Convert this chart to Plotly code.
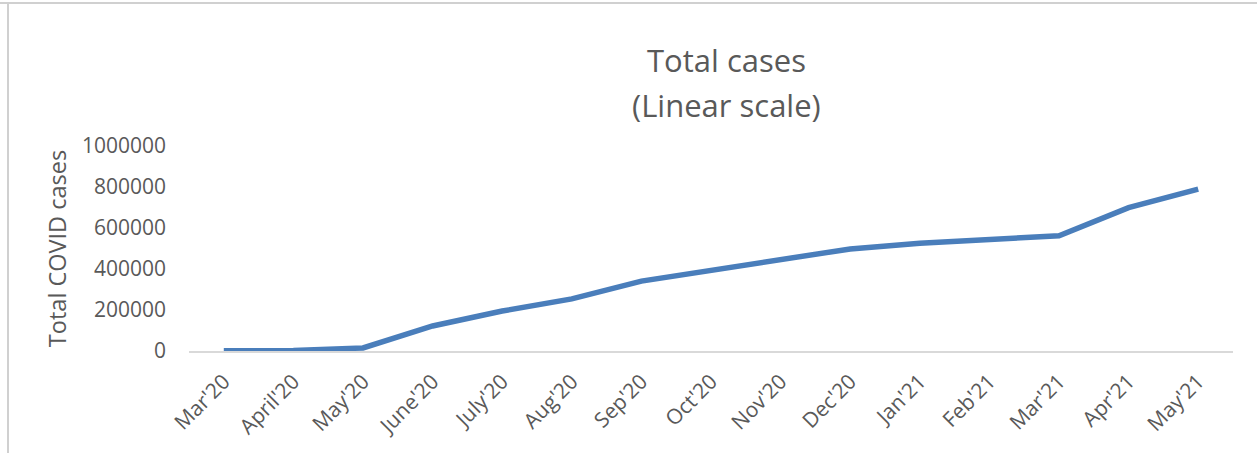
import plotly.graph_objects as go

months = ["Mar'20", "April'20", "May'20", "June'20", "July'20", "Aug'20", "Sep'20",
          "Oct'20", "Nov'20", "Dec'20", "Jan'21", "Feb'21", "Mar'21", "Apr'21", "May'21"]
total_cases = [1500, 2000, 15000, 122000, 195000, 254000, 341000,
               395000, 449000, 498000, 526000, 541000, 562000, 699000, 790000]
y_ticks = [0, 200000, 400000, 600000, 800000, 1000000]

FONT = "Open Sans"
GREY = "#595959"

fig = go.Figure()
fig.add_trace(go.Scatter(
    x=months, y=total_cases, mode="lines",
    line=dict(color="#4a7ebb", width=5.5),
    showlegend=False, hoverinfo="skip",
))

W, H = 1257, 453
L, R, T, B = 189, 24, 146, 102

fig.update_layout(
    width=W, height=H,
    margin=dict(l=L, r=R, t=T, b=B, autoexpand=False),
    paper_bgcolor="white", plot_bgcolor="white",
    font=dict(family=FONT, color=GREY),
    xaxis=dict(
        type="category", range=[-0.5, 14.5],
        showgrid=False, zeroline=False,
        showline=True, linecolor="#d9d9d9", linewidth=2,
        ticks="", tickangle=-45, ticklabelstandoff=8,
        tickfont=dict(size=21, color=GREY, family=FONT),
    ),
    yaxis=dict(
        range=[0, 1000000], tickvals=y_ticks,
        ticktext=[str(v) for v in y_ticks],
        showgrid=False, zeroline=False, showline=False,
        ticks="", ticklabelstandoff=22,
        tickfont=dict(size=21, color=GREY, family=FONT),
        title=dict(text="Total COVID cases", font=dict(size=23.5, color=GREY, family=FONT), standoff=8),
    ),
)

def px(x):
    return (x - L) / (W - L - R)

def py(y):
    return (H - B - y) / (H - T - B)

fig.add_annotation(text="Total cases", x=px(726), y=py(60), xref="paper", yref="paper",
                   showarrow=False, font=dict(size=31, color=GREY, family=FONT),
                   xanchor="center", yanchor="middle")
fig.add_annotation(text="(Linear scale)", x=px(726), y=py(105), xref="paper", yref="paper",
                   showarrow=False, font=dict(size=31, color=GREY, family=FONT),
                   xanchor="center", yanchor="middle")

# screenshot frame lines
fig.add_shape(type="line", xref="paper", yref="paper", x0=px(0), x1=px(W), y0=py(3), y1=py(3),
              line=dict(color="#d0d0d0", width=2))
fig.add_shape(type="line", xref="paper", yref="paper", x0=px(8), x1=px(8), y0=py(3), y1=py(H),
              line=dict(color="#d0d0d0", width=2))

fig.write_html("out.html", config={"displayModeBar": False},
               post_script="document.body.style.margin='0';document.body.style.overflow='hidden';")
